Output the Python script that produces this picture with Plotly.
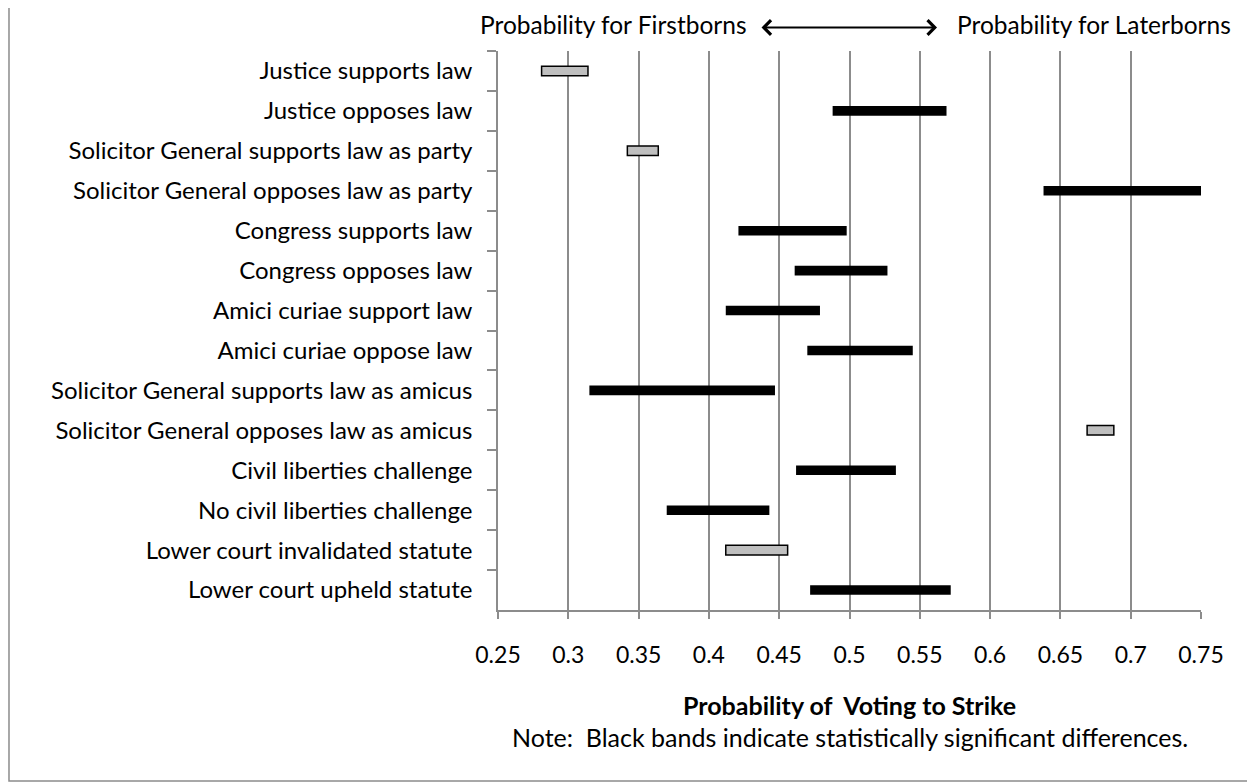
import plotly.graph_objects as go

categories = [
    "Justice supports law",
    "Justice opposes law",
    "Solicitor General supports law as party",
    "Solicitor General opposes law as party",
    "Congress supports law",
    "Congress opposes law",
    "Amici curiae support law",
    "Amici curiae oppose law",
    "Solicitor General supports law as amicus",
    "Solicitor General opposes law as amicus",
    "Civil liberties challenge",
    "No civil liberties challenge",
    "Lower court invalidated statute",
    "Lower court upheld statute",
]
low = [0.281, 0.488, 0.342, 0.638, 0.421, 0.461, 0.412, 0.470, 0.315, 0.669, 0.462, 0.370, 0.412, 0.472]
high = [0.314, 0.569, 0.364, 0.752, 0.498, 0.527, 0.479, 0.545, 0.447, 0.688, 0.533, 0.443, 0.456, 0.572]
significant = [False, True, False, True, True, True, True, True, True, False, True, True, False, True]

tick_vals = [0.25, 0.30, 0.35, 0.40, 0.45, 0.50, 0.55, 0.60, 0.65, 0.70, 0.75]
tick_text = ["0.25", "0.3", "0.35", "0.4", "0.45", "0.5", "0.55", "0.6", "0.65", "0.7", "0.75"]

FONT = "Lato"
GRID = "#8c8c8c"

fig = go.Figure()
for sig, color, line in [(True, "black", 0), (False, "#bfbfbf", 1.5)]:
    ys = [c for c, s in zip(categories, significant) if s == sig]
    bases = [lo for lo, s in zip(low, significant) if s == sig]
    lens = [hi - lo for lo, hi, s in zip(low, high, significant) if s == sig]
    fig.add_trace(go.Bar(
        y=ys, x=lens, base=bases, orientation="h",
        width=0.24,
        marker=dict(color=color, line=dict(color="black", width=line)),
        cliponaxis=False, showlegend=False,
    ))

fig.update_layout(
    width=1247, height=775,
    margin=dict(l=490, r=54, t=43, b=173),
    paper_bgcolor="white", plot_bgcolor="white",
    barmode="overlay",
    font=dict(family=FONT, size=24, color="black"),
    xaxis=dict(
        range=[0.25, 0.75], tickvals=tick_vals, ticktext=tick_text,
        showgrid=True, gridcolor=GRID, gridwidth=1.6,
        showline=True, linecolor=GRID, linewidth=1.6,
        ticks="outside", ticklen=7, tickwidth=1.6, tickcolor=GRID,
        ticklabelstandoff=17, zeroline=False,
        tickfont=dict(family=FONT, size=23),
    ),
    yaxis=dict(
        categoryorder="array", categoryarray=categories, autorange="reversed",
        showgrid=False, showline=True, linecolor=GRID, linewidth=1.6,
        ticks="outside", ticklen=9, tickwidth=1.6, tickcolor=GRID,
        tickson="boundaries", ticklabelstandoff=19,
        tickfont=dict(family=FONT, size=24),
    ),
    shapes=[dict(type="rect", xref="paper", yref="paper",
                 x0=-0.6956, x1=1.0758, y0=-0.3059, y1=1.2,
                 line=dict(color=GRID, width=1.5), layer="below")],
    annotations=[
        dict(text="Probability for Firstborns", xref="paper", yref="paper",
             x=0.3566, y=1.047, xanchor="right", yanchor="middle",
             showarrow=False, font=dict(size=24.5)),
        dict(text="Probability for Laterborns", xref="paper", yref="paper",
             x=0.6506, y=1.047, xanchor="left", yanchor="middle",
             showarrow=False, font=dict(size=24.5)),
        dict(text="", xref="paper", yref="paper", x=0.6245, y=1.0420,
             ax=-177, ay=0, showarrow=True, arrowside="end+start",
             arrowhead=4, arrowsize=1.4, arrowwidth=2, arrowcolor="black",
             startarrowhead=4, startarrowsize=1.4),
        dict(text="<b>Probability of  Voting to Strike</b>", xref="paper", yref="paper",
             x=0.5, y=-0.170, xanchor="center", yanchor="middle",
             showarrow=False, font=dict(size=25)),
        dict(text="Note:  Black bands indicate statistically significant differences.",
             xref="paper", yref="paper",
             x=0.5, y=-0.227, xanchor="center", yanchor="middle",
             showarrow=False, font=dict(size=25)),
    ],
)

fig.write_html("out.html")
